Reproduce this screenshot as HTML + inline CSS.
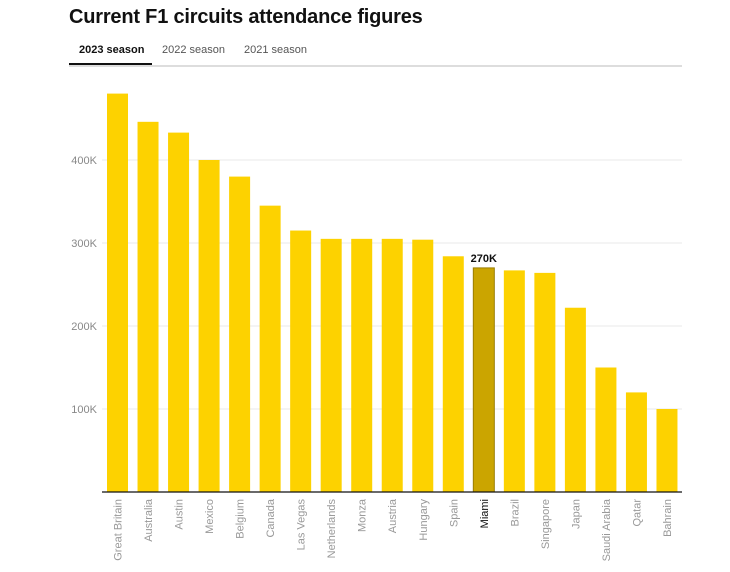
<!DOCTYPE html>
<html><head><meta charset="utf-8"><style>
body{margin:0;background:#fff;font-family:"Liberation Sans",sans-serif;width:730px;height:572px;overflow:hidden;position:relative}
h1{position:absolute;left:69px;top:6px;margin:0;font-size:20px;font-weight:bold;color:#111;letter-spacing:-0.2px}
.tabs{position:absolute;left:69px;top:43px;width:613px;height:22px;border-bottom:2px solid #ddd}
.tab{position:absolute;top:1px;font-size:11px;color:#555}
.tab.active{color:#111;font-weight:bold}
.ul{position:absolute;left:0;top:20px;width:83px;height:2px;background:#111}
</style></head><body>
<h1>Current F1 circuits attendance figures</h1>
<div class="tabs">
<span class="tab active" style="left:10px">2023 season</span>
<span class="tab" style="left:93px">2022 season</span>
<span class="tab" style="left:175px">2021 season</span>
<div class="ul"></div>
</div>
<svg id="chart" width="730" height="572" style="position:absolute;left:0;top:0"></svg>
<script>
const categories=["Great Britain","Australia","Austin","Mexico","Belgium","Canada","Las Vegas","Netherlands","Monza","Austria","Hungary","Spain","Miami","Brazil","Singapore","Japan","Saudi Arabia","Qatar","Bahrain"];
const values=[480,446,433,400,380,345,315,305,305,305,304,284,270,267,264,222,150,120,100];
const yTicks=[100,200,300,400];
const tickLabels=["100K","200K","300K","400K"];
const highlight="Miami";
const highlightLabel="270K";

const NS="http://www.w3.org/2000/svg";
const svg=document.getElementById('chart');
const x0=102,x1=682,yBase=492,pxPer=0.83;
const band=(x1-x0)/categories.length;
const xs=i=>x0+i*band+5;
const ys=v=>yBase-v*pxPer;
function mk(t,a){const e=document.createElementNS(NS,t);for(const k in a)e.setAttribute(k,a[k]);svg.appendChild(e);return e;}
yTicks.forEach((t,i)=>{
  const g=mk('line',{x1:x0,x2:x1,y1:ys(t),y2:ys(t),stroke:'#e8e8e8','stroke-width':1});
  
  
  const l=mk('text',{x:97,y:ys(t)+4,'text-anchor':'end','font-size':11,fill:'#888'});
  l.textContent=tickLabels[i];
  
  
});
categories.forEach((c,i)=>{
  const hi=c===highlight;
  const r=mk('rect',{x:xs(i),y:ys(values[i]),width:21,height:values[i]*pxPer,fill:hi?'#cba500':'#fdd200',stroke:hi?'#9a7d00':'none','stroke-width':hi?1:0});
  
  
  const cx=xs(i)+10.5;
  const t=mk('text',{x:0,y:0,'text-anchor':'end','font-size':11,fill:hi?'#111':'#999',transform:`translate(${cx+4},${yBase+7}) rotate(-90)`});
  t.textContent=c;
  
  
  if(hi){
    const v=mk('text',{x:cx,y:ys(values[i])-6,'text-anchor':'middle','font-size':11,'font-weight':'bold',fill:'#111'});
    v.textContent=highlightLabel;
    
    
  }
});
const ax=mk('line',{x1:x0,x2:x1,y1:yBase,y2:yBase,stroke:'#111','stroke-width':1.2});


</script>
</body></html>
